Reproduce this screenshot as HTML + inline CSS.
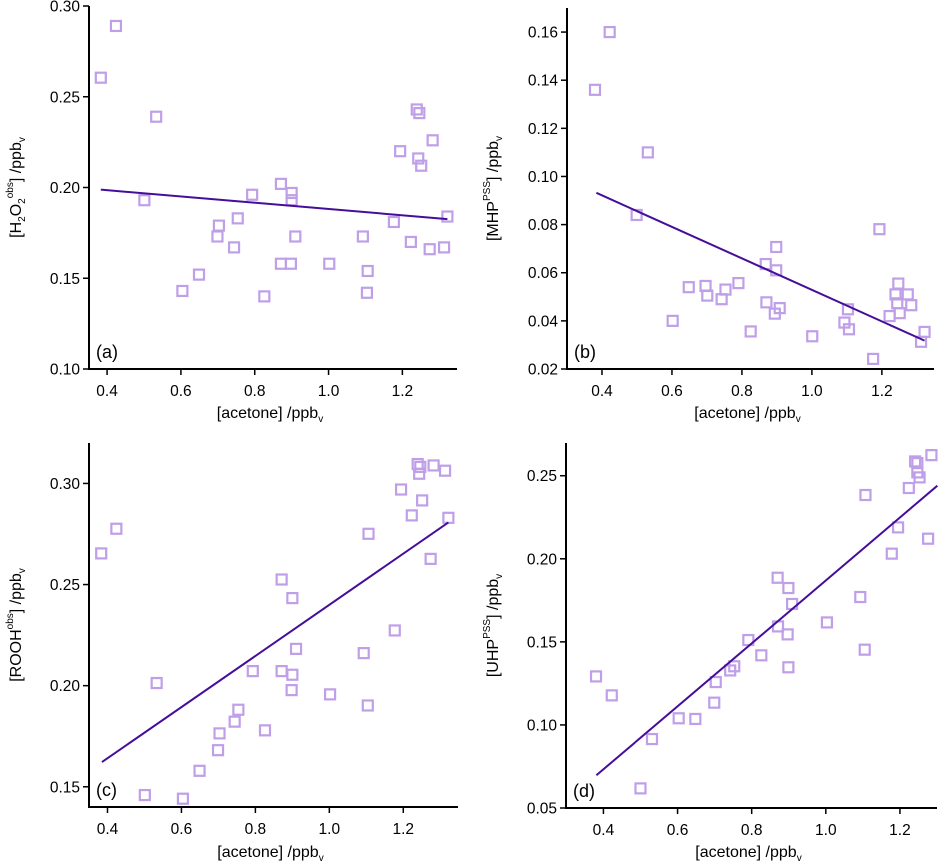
<!DOCTYPE html>
<html><head><meta charset="utf-8">
<style>
html,body{margin:0;padding:0;background:#fff;}
svg{display:block;font-family:"Liberation Sans",Arial,sans-serif;}
</style></head>
<body>
<svg id="fig" width="938" height="866" viewBox="0 0 938 866" xmlns="http://www.w3.org/2000/svg"></svg>
<script>
// ---- data ----
const acetoneA = [0.383,0.424,0.533,0.501,0.604,0.649,0.699,0.703,0.744,0.754,0.793,0.826,0.871,0.871,0.898,0.900,0.900,0.910,1.002,1.093,1.106,1.104,1.177,1.194,1.223,1.239,1.246,1.243,1.251,1.282,1.274,1.313,1.322];
const h2o2Obs = [0.2605,0.289,0.239,0.193,0.143,0.152,0.173,0.179,0.167,0.183,0.196,0.140,0.202,0.158,0.158,0.197,0.193,0.173,0.158,0.173,0.154,0.142,0.181,0.220,0.170,0.243,0.241,0.216,0.212,0.226,0.166,0.167,0.184];
const h2o2Fit = [[0.383,0.1988],[1.322,0.1826]];

const acetoneB = [0.380,0.422,0.531,0.499,0.602,0.648,0.696,0.701,0.742,0.753,0.790,0.825,0.868,0.870,0.894,0.898,0.898,0.908,1.001,1.093,1.103,1.106,1.175,1.193,1.222,1.239,1.244,1.247,1.251,1.274,1.284,1.312,1.322];
const mhpPss = [0.136,0.160,0.110,0.084,0.040,0.054,0.0545,0.0505,0.049,0.053,0.0557,0.0356,0.0636,0.0477,0.043,0.0707,0.061,0.0453,0.0336,0.0393,0.0448,0.0365,0.0242,0.0781,0.042,0.051,0.0473,0.0555,0.0432,0.051,0.0465,0.0313,0.0354];
const mhpFit = [[0.384,0.0932],[1.322,0.0318]];

const acetoneC = [0.383,0.424,0.533,0.501,0.604,0.649,0.699,0.703,0.744,0.754,0.793,0.826,0.871,0.871,0.898,0.900,0.900,0.910,1.002,1.093,1.106,1.104,1.177,1.194,1.223,1.239,1.246,1.243,1.251,1.282,1.274,1.313,1.322];
const roohObs = [0.2654,0.2776,0.2013,0.1459,0.1441,0.1579,0.1681,0.1764,0.1822,0.1881,0.2072,0.1779,0.2525,0.2072,0.1978,0.2433,0.2054,0.2182,0.1957,0.2161,0.2751,0.1902,0.2273,0.2970,0.2842,0.3096,0.3082,0.3048,0.2916,0.3089,0.2627,0.3063,0.2830];
const roohFit = [[0.385,0.1622],[1.322,0.2807]];

const acetoneD = [0.380,0.4225,0.531,0.500,0.603,0.648,0.699,0.703,0.742,0.753,0.791,0.826,0.870,0.871,0.899,0.899,0.897,0.909,1.003,1.093,1.107,1.105,1.178,1.195,1.224,1.241,1.247,1.247,1.253,1.285,1.276];
const uhpPss = [0.1292,0.1178,0.0915,0.0618,0.1040,0.1036,0.1134,0.1258,0.1328,0.1353,0.1511,0.1419,0.1886,0.1593,0.1347,0.1824,0.1545,0.1728,0.1617,0.1770,0.2384,0.1453,0.2031,0.2189,0.2426,0.2586,0.2576,0.2520,0.2490,0.2624,0.2121];
const uhpFit = [[0.381,0.0697],[1.301,0.244]];

const xTicksA = [0.4,0.6,0.8,1.0,1.2];
const yTicksA = [0.10,0.15,0.20,0.25,0.30];
const yTicksB = [0.02,0.04,0.06,0.08,0.10,0.12,0.14,0.16];
const yTicksC = [0.15,0.20,0.25,0.30];
const yTicksD = [0.05,0.10,0.15,0.20,0.25];

const NS="http://www.w3.org/2000/svg";
const svg=document.getElementById('fig');
function mk(tag,attrs,parent){const e=document.createElementNS(NS,tag);for(const k in attrs)e.setAttribute(k,attrs[k]);(parent||svg).appendChild(e);return e;}

function panel(cfg){
  const g=mk('g',{});
  
  
  const sx=v=>cfg.x0+(v-cfg.xmin)/(cfg.xmax-cfg.xmin)*(cfg.x1-cfg.x0);
  const sy=v=>cfg.y1-(v-cfg.ymin)/(cfg.ymax-cfg.ymin)*(cfg.y1-cfg.y0);
  const ax=mk('path',{d:`M${cfg.x0},${cfg.y0}V${cfg.y1}H${cfg.x1}`,fill:'none',stroke:'#000','stroke-width':2},g);
  
  
  cfg.xt.forEach(t=>{
    const x=sx(t);
    mk('line',{x1:x,y1:cfg.y1,x2:x,y2:cfg.y1+6,stroke:'#000','stroke-width':1.5},g);
    const tx=mk('text',{x:x,y:cfg.y1+27,'font-size':15.5,'text-anchor':'middle',fill:'#000'},g);
    tx.textContent=t.toFixed(1);
    
    
  });
  cfg.yt.forEach(t=>{
    const y=sy(t);
    mk('line',{x1:cfg.x0-6,y1:y,x2:cfg.x0,y2:y,stroke:'#000','stroke-width':1.5},g);
    const tx=mk('text',{x:cfg.x0-9,y:y+5.5,'font-size':15.5,'text-anchor':'end',fill:'#000'},g);
    tx.textContent=t.toFixed(2);
    
    
  });
  const xl=mk('text',{x:(cfg.x0+cfg.x1)/2-3,y:cfg.xly,'font-size':16,'text-anchor':'middle',fill:'#000'},g);
  xl.innerHTML='[acetone] /ppb<tspan font-size="10" dy="4">v</tspan>';
  
  
  const cy=(cfg.y0+cfg.y1)/2;
  const yl=mk('text',{x:0,y:0,'font-size':16,'text-anchor':'middle',fill:'#000',transform:`translate(${cfg.ylx},${cy}) rotate(-90)`},g);
  yl.innerHTML=cfg.ytitle;
  
  
  const pl=mk('text',{x:cfg.x0+7,y:cfg.y1-11,'font-size':18,fill:'#000'},g);
  pl.textContent='('+cfg.id+')';
  
  
  cfg.xs.forEach((xv,i)=>{
    const r=mk('rect',{x:sx(xv)-5,y:sy(cfg.ys[i])-5,width:10,height:10,fill:'none',stroke:'#bf9fe8','stroke-width':2.2},g);
    
    
  });
  const f=cfg.fit;
  const ln=mk('line',{x1:sx(f[0][0]),y1:sy(f[0][1]),x2:sx(f[1][0]),y2:sy(f[1][1]),stroke:'#450e9a','stroke-width':2},g);
  
  
}

panel({id:'a',x0:89,x1:457,y0:6,y1:369,xmin:0.351,xmax:1.348,ymin:0.10,ymax:0.30,xt:xTicksA,yt:yTicksA,xs:acetoneA,ys:h2o2Obs,fit:h2o2Fit,xly:418,ylx:21,
  ytitle:'[H<tspan font-size="10" dy="4">2</tspan><tspan dy="-4">O</tspan><tspan font-size="10" dy="4">2</tspan><tspan font-size="10" dy="-12">obs</tspan><tspan dy="8">] /ppb</tspan><tspan font-size="10" dy="4">v</tspan>'});
panel({id:'b',x0:567,x1:934,y0:8,y1:369,xmin:0.3,xmax:1.349,ymin:0.02,ymax:0.17,xt:xTicksA,yt:yTicksB,xs:acetoneB,ys:mhpPss,fit:mhpFit,xly:418,ylx:498,
  ytitle:'[MHP<tspan font-size="10" dy="-8">PSS</tspan><tspan dy="8">] /ppb</tspan><tspan font-size="10" dy="4">v</tspan>'});
panel({id:'c',x0:89,x1:458,y0:443,y1:807,xmin:0.35,xmax:1.348,ymin:0.14,ymax:0.32,xt:xTicksA,yt:yTicksC,xs:acetoneC,ys:roohObs,fit:roohFit,xly:857,ylx:21,
  ytitle:'[ROOH<tspan font-size="10" dy="-8">obs</tspan><tspan dy="8">] /ppb</tspan><tspan font-size="10" dy="4">v</tspan>'});
panel({id:'d',x0:566,x1:937,y0:443,y1:808,xmin:0.299,xmax:1.3,ymin:0.05,ymax:0.2697,xt:xTicksA,yt:yTicksD,xs:acetoneD,ys:uhpPss,fit:uhpFit,xly:857,ylx:498,
  ytitle:'[UHP<tspan font-size="10" dy="-8">PSS</tspan><tspan dy="8">] /ppb</tspan><tspan font-size="10" dy="4">v</tspan>'});
</script>
</body></html>
